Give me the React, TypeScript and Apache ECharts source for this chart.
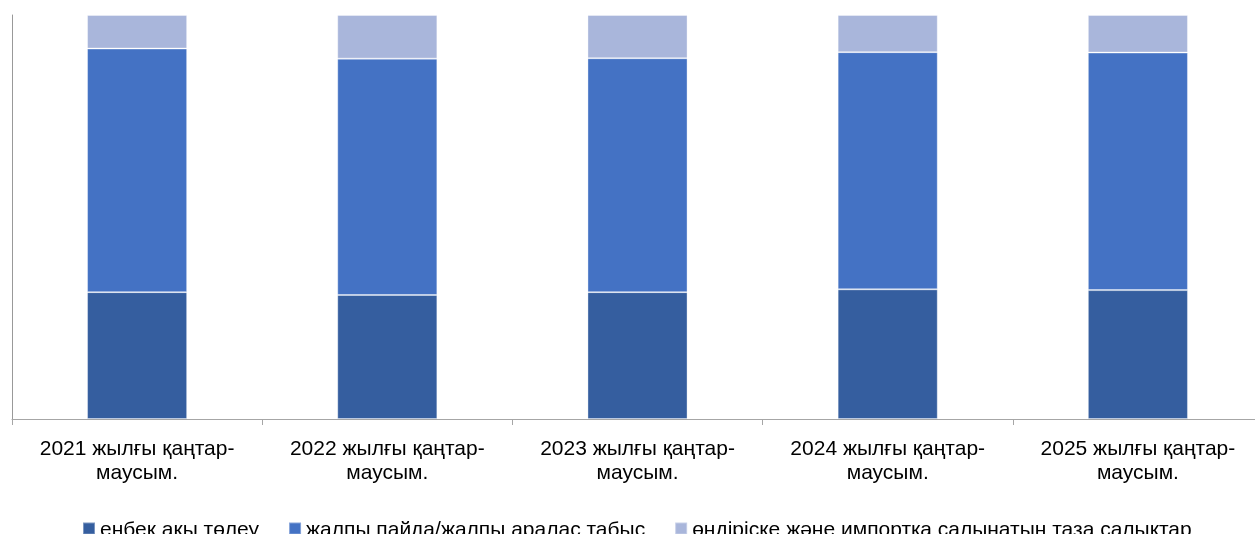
import React, { useEffect, useRef } from "react";
import * as echarts from "echarts";

const categories = [
  "2021 жылғы қаңтар-\nмаусым.",
  "2022 жылғы қаңтар-\nмаусым.",
  "2023 жылғы қаңтар-\nмаусым.",
  "2024 жылғы қаңтар-\nмаусым.",
  "2025 жылғы қаңтар-\nмаусым.",
];
const seriesNames = [
  "еңбек ақы төлеу",
  "жалпы пайда/жалпы аралас табыс",
  "өндіріске және импортқа салынатын таза салықтар",
];
const labour = [31.4, 30.7, 31.4, 32.1, 31.9];
const profit = [60.3, 58.5, 57.9, 58.7, 58.8];
const taxes = [8.3, 10.8, 10.7, 9.2, 9.3];
const colors = ["#355E9F", "#4472C4", "#A9B6DB"];

export default function App() {
  const ref = useRef<HTMLDivElement>(null);
  useEffect(() => {
    if (!ref.current) return;
    const chart = echarts.init(ref.current, undefined, { renderer: "svg" });
    const font = "'Liberation Sans', Arial, sans-serif";
    const data = [labour, profit, taxes];
    chart.setOption({
      animation: false,
      textStyle: { fontFamily: font },
      grid: {
        left: 12,
        width: 1251,
        top: 15,
        height: 404,
        containLabel: false,
        outerBoundsMode: "none",
      },
      legend: {
        data: seriesNames,
        left: 77,
        top: 513,
        itemWidth: 12,
        itemHeight: 12,
        itemGap: 29,
        icon: "rect",
        textStyle: { fontSize: 21, color: "#000", fontFamily: font },
      },
      xAxis: {
        type: "category",
        data: categories,
        axisLine: { show: true, lineStyle: { color: "#A6A6A6", width: 1 } },
        axisTick: { show: true, alignWithLabel: false, length: 6, lineStyle: { color: "#A6A6A6" } },
        axisLabel: {
          fontSize: 21,
          color: "#000",
          fontFamily: font,
          lineHeight: 24,
          margin: 16,
          interval: 0,
        },
      },
      yAxis: {
        type: "value",
        min: 0,
        max: 100,
        axisLine: { show: true, lineStyle: { color: "#999999", width: 1 } },
        axisTick: { show: false },
        axisLabel: { show: false },
        splitLine: { show: false },
      },
      series: seriesNames.map((name, i) => ({
        name,
        type: "bar",
        stack: "total",
        barWidth: "40%",
        data: data[i],
        itemStyle: {
          color: colors[i],
          borderColor: "rgba(255,255,255,0.35)",
          borderWidth: 1,
        },
      })),
    });
    return () => chart.dispose();
  }, []);
  return (
    <div
      ref={ref}
      style={{ position: "fixed", left: 0, top: 0, width: 1255, height: 534 }}
    />
  );
}
